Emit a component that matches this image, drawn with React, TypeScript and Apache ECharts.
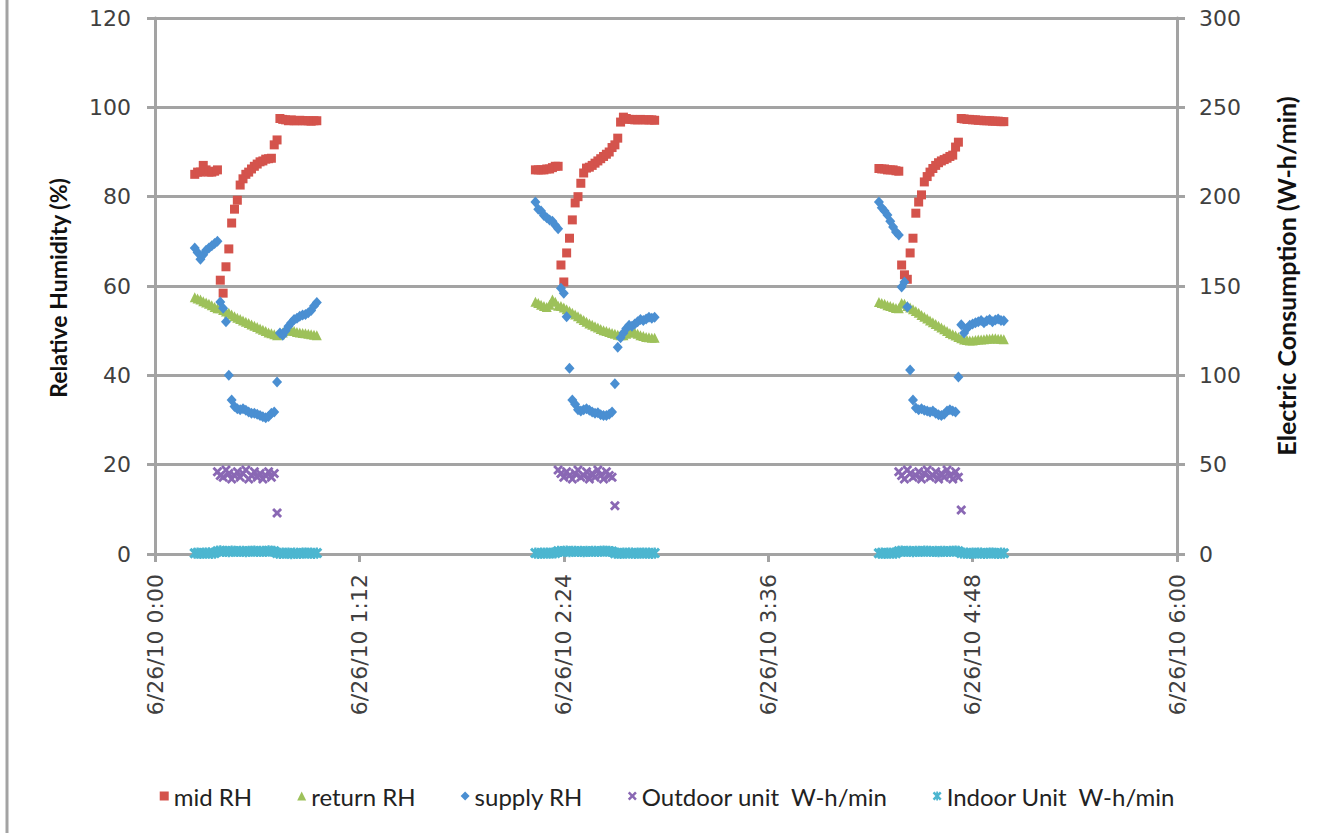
import React, { useEffect, useRef } from "react";
import * as echarts from "echarts";

// ---- axis tick labels ----
const xTickLabels = [
  "6/26/10 0:00",
  "6/26/10 1:12",
  "6/26/10 2:24",
  "6/26/10 3:36",
  "6/26/10 4:48",
  "6/26/10 6:00",
];

// ---- sampling: one reading per minute, first minute of each cycle ----
const cycleStarts = [14, 134, 255];
const outdoorStarts = [22, 142, 262];

// ---- mid RH (%) ----
const midRH1 = [
  85, 85.5, 85.5, 87, 86, 85.5, 85.5, 85.7, 86,
  61.3, 58.4, 64.3, 68.3, 74.1, 77.2, 79.2, 82.6,
  84, 85, 85.5, 86.2, 86.8, 87.3, 87.8, 88, 88.4, 88.5, 88.6,
  91.6, 92.7,
  97.5, 97.3, 97.2, 97, 97.2, 97, 97, 97.1, 97, 97, 97, 96.9, 97, 97,
];
const midRH2 = [
  86, 86, 86, 86, 86.2, 86.2, 86.5, 86.8, 86.8,
  64.7, 60.9, 67.4, 70.7, 74.8, 78.6, 80, 83, 85.3,
  86.4, 86.6, 87, 87.5, 88, 88.5, 89, 89.5, 90, 91, 91.6,
  93.1, 96.7,
  97.8, 97.5, 97.3, 97.3, 97.2, 97.2, 97.3, 97.2, 97.2, 97.2, 97.2, 97.1,
];
const midRH3 = [
  86.3, 86.2, 86.2, 86, 86, 86, 85.8, 85.7,
  64.7, 62.5, 61.5, 67.4, 70.7, 76.3, 78.8, 80.4,
  83.3, 84.5, 85.5, 86.3, 87, 87.6, 88, 88.3, 88.6, 89, 89.3,
  91.1, 92.2,
  97.5, 97.4, 97.3, 97.3, 97.2, 97.2, 97.1, 97.1, 97, 97, 97, 96.9, 96.9, 96.9, 96.8, 96.8,
];

// ---- return RH (%) ----
const returnRH1 = [
  57.5, 57.2, 57, 56.6, 56.3, 56, 55.7, 55.3, 55,
  55, 54.6, 54.3, 54, 53.6, 53.2, 52.9, 52.6, 52.3, 52, 51.7, 51.4, 51.1, 50.8, 50.5, 50.2, 49.9, 49.6, 49.4, 49.2, 49,
  49.2, 49.6, 50, 50.2, 50.1, 49.9, 49.7, 49.6, 49.5, 49.4, 49.3, 49.2, 49.1, 49,
];
const returnRH2 = [
  56.5, 56.2, 55.8, 55.5, 55.3, 55.8, 57, 56.5, 55.6,
  55.5, 55.2, 54.8, 54.4, 54, 53.6, 53.2, 52.8, 52.4, 52, 51.6, 51.3, 51, 50.7, 50.4, 50.1, 49.9, 49.7, 49.5, 49.3, 49.1, 49,
  49, 49.3, 49.6, 49.8, 49.6, 49.3, 49, 48.8, 48.6, 48.5, 48.4, 48.4,
];
const returnRH3 = [
  56.4, 56.2, 56, 55.7, 55.5, 55.3, 55.1, 55,
  56.2, 56, 55.5, 55.2, 54.8, 54.4, 54, 53.5, 53.1, 52.7, 52.3, 51.9, 51.5, 51.1, 50.7, 50.3, 49.9, 49.5, 49.2, 48.9, 48.6,
  48.3, 48, 47.9, 47.8, 47.8, 47.9, 48, 48, 48.1, 48.2, 48.2, 48.3, 48.3, 48.2, 48.2, 48.1,
];

// ---- supply RH (%) ----
const supplyRH1 = [
  68.5, 67.5, 66, 67, 68, 68.5, 69, 69.5, 70,
  56.4, 55, 52, 40, 34.5,
  33, 32.5, 32.3, 32.5, 32.2, 31.8, 31.5, 31.5, 31.3, 31, 30.7, 30.5, 30.8, 31.5, 31.8,
  38.5,
  49.5, 49, 50, 51, 51.8, 52.5, 52.8, 53.2, 53.5, 53.6, 54, 54.5, 55.5, 56.3,
];
const supplyRH2 = [
  78.8, 77.2, 76.8, 75.8, 75.3, 74.8, 74.5, 73.6, 72.8,
  59.5, 58.4, 53.1, 41.6, 34.5,
  33.5, 32.3, 32, 32.3, 32.5, 32.2, 31.8, 31.5, 31.6, 31.2, 31, 31, 31.3, 31.8,
  38.1, 46.3, 48.4,
  49.5, 50.5, 51.2, 51, 51.5, 52, 52.5, 52.3, 52.6, 53, 52.8, 53,
];
const supplyRH3 = [
  78.8, 77.5, 76.8, 75.9, 74.5, 73.2, 72.1, 71.4,
  59.8, 60.9, 55.3, 41.2, 34.5,
  32.7, 32.3, 32.5, 32.2, 32, 31.8, 32, 31.5, 31.2, 31, 31.3, 32, 32.3, 32, 31.8,
  39.6,
  51.3, 49.5, 50.5, 51.2, 51.5, 51.8, 52, 52.3, 51.8, 52.2, 52.5, 52, 52.4, 52.6, 52.3, 52.2,
];

// ---- Outdoor unit W-h/min (right axis), compressor-on minutes ----
const outdoor1 = [
  46, 44, 43, 47, 45, 42, 44, 46, 43, 45, 47, 42, 44, 46, 43, 45, 42, 44, 46, 43, 45,
  23,
];
const outdoor2 = [
  47, 45, 43, 46, 44, 42, 45, 47, 43, 44, 46, 42, 45, 43, 47, 44, 42, 46, 44, 43,
  27,
];
const outdoor3 = [
  46, 44, 42, 47, 45, 43, 44, 46, 42, 45, 47, 43, 44, 46, 42, 45, 43, 47, 44, 42, 46, 43,
  24.6,
];

// ---- Indoor Unit W-h/min (right axis) ----
const indoor1 = [
  0.4, 0.6, 0.3, 0.5, 0.4, 0.7, 0.3, 0.5,
  1.5, 1.8, 1.4, 1.6, 1.3, 1.7, 1.5, 1.4, 1.6, 1.5, 1.3, 1.6, 1.5, 1.7, 1.4, 1.5, 1.6, 1.4, 1.8, 1.5, 1.6,
  0.5, 0.3, 0.6, 0.4, 0.5, 0.2, 0.6, 0.4, 0.3, 0.5, 0.6, 0.4, 0.5, 0.3, 0.5,
];
const indoor2 = [
  0.5, 0.3, 0.6, 0.4, 0.5, 0.4, 0.6, 0.5,
  1.6, 1.4, 1.5, 1.7, 1.3, 1.5, 1.6, 1.4, 1.5, 1.3, 1.6, 1.4, 1.5, 1.6, 1.4, 1.5, 1.7, 1.5, 1.6, 1.4,
  0.4, 0.6, 0.3, 0.5, 0.4, 0.6, 0.5, 0.3, 0.5, 0.4, 0.6, 0.4, 0.5, 0.3, 0.5,
];
const indoor3 = [
  0.4, 0.5, 0.3, 0.6, 0.4, 0.5, 0.4,
  1.5, 1.7, 1.4, 1.6, 1.5, 1.3, 1.6, 1.5, 1.4, 1.7, 1.5, 1.6, 1.4, 1.5, 1.3, 1.6, 1.5, 1.4, 1.6, 1.5, 1.7, 1.5,
  0.5, 0.4, 0.6, 0.3, 0.5, 0.4, 0.6, 0.5, 0.3, 0.4, 0.6, 0.5, 0.4, 0.3, 0.5, 0.4,
];

const seriesNames = [
  "mid RH",
  "return RH",
  "supply RH",
  "Outdoor unit  W-h/min",
  "Indoor Unit  W-h/min",
];
const leftTitle = "Relative Humidity (%)";
const rightTitle = "Electric Consumption (W-h/min)";
const colors = ["#D4534C", "#9DC15A", "#4A8FD2", "#8A68B4", "#4CB6D0"];

const X_SYMBOL =
  "path://M0,2L2,0L5,3L8,0L10,2L7,5L10,8L8,10L5,7L2,10L0,8L3,5Z";
const STAR_SYMBOL =
  "path://M0,2L2,0L5,3L8,0L10,2L7,5L10,8L8,10L5,7L2,10L0,8L3,5Z M4,0L6,0L6,10L4,10Z";

function toPoints(starts: number[], cycles: number[][]) {
  const out: number[][] = [];
  cycles.forEach((vals, c) => {
    vals.forEach((v, i) => out.push([starts[c] + i, v]));
  });
  return out;
}

export default function App() {
  const ref = useRef<HTMLDivElement>(null);

  useEffect(() => {
    if (!ref.current) return;
    const chart = echarts.init(ref.current, undefined, { renderer: "svg" });
    const tickFont = {
      fontFamily: "DejaVu Sans",
      fontSize: 22,
      color: "#404040",
    };
    const gridGray = "#A3A3A3";
    const mk = (
      idx: number,
      data: number[][],
      symbol: string,
      size: number | number[],
      yAxisIndex: number
    ) => ({
      name: seriesNames[idx],
      type: "scatter",
      yAxisIndex,
      data,
      symbol,
      symbolSize: size,
      itemStyle: { color: colors[idx], opacity: 1 },
      emphasis: { disabled: true },
    });

    chart.setOption({
      animation: false,
      backgroundColor: "#ffffff",
      grid: { left: 155, right: 158, top: 18, bottom: 279, containLabel: false },
      graphic: [
        {
          type: "line",
          shape: { x1: 7, y1: 0, x2: 7, y2: 833 },
          style: { stroke: gridGray, lineWidth: 3 },
        },
        {
          type: "text",
          x: 58,
          y: 288,
          rotation: Math.PI / 2,
          style: {
            text: leftTitle,
            fontFamily: "Lato",
            fontWeight: "bold",
            fontSize: 23,
            fill: "#111",
            align: "center",
            verticalAlign: "middle",
          },
        },
        {
          type: "text",
          x: 1286,
          y: 276,
          rotation: Math.PI / 2,
          style: {
            text: rightTitle,
            fontFamily: "Lato",
            fontWeight: "bold",
            fontSize: 25,
            fill: "#111",
            align: "center",
            verticalAlign: "middle",
          },
        },
      ],
      legend: {
        bottom: 20,
        left: "center",
        itemWidth: 9,
        itemHeight: 9,
        itemGap: 45,
        textStyle: { fontFamily: "Lato", fontSize: 24, color: "#222" },
        data: seriesNames,
      },
      xAxis: {
        type: "value",
        min: 0,
        max: 360,
        interval: 72,
        axisLine: { show: true, onZero: false, lineStyle: { color: gridGray, width: 3 } },
        axisTick: { show: true, length: 8, lineStyle: { color: gridGray, width: 3 } },
        splitLine: { show: false },
        axisLabel: {
          ...tickFont,
          rotate: 90,
          margin: 20,
          formatter: (v: number) => xTickLabels[Math.round(v / 72)] ?? "",
        },
      },
      yAxis: [
        {
          type: "value",
          min: 0,
          max: 120,
          interval: 20,
          position: "left",
          axisLine: { show: true, lineStyle: { color: gridGray, width: 3 } },
          axisTick: { show: true, length: 8, lineStyle: { color: gridGray, width: 3 } },
          splitLine: { show: true, lineStyle: { color: gridGray, width: 3 } },
          axisLabel: { ...tickFont, margin: 24 },
        },
        {
          type: "value",
          min: 0,
          max: 300,
          interval: 50,
          position: "right",
          axisLine: { show: true, lineStyle: { color: gridGray, width: 3 } },
          axisTick: { show: true, length: 8, lineStyle: { color: gridGray, width: 3 } },
          splitLine: { show: false },
          axisLabel: { ...tickFont, margin: 22 },
        },
      ],
      series: [
        mk(0, toPoints(cycleStarts, [midRH1, midRH2, midRH3]), "rect", 9, 0),
        mk(1, toPoints(cycleStarts, [returnRH1, returnRH2, returnRH3]), "triangle", 10, 0),
        mk(2, toPoints(cycleStarts, [supplyRH1, supplyRH2, supplyRH3]), "diamond", [10, 11], 0),
        mk(3, toPoints(outdoorStarts, [outdoor1, outdoor2, outdoor3]), X_SYMBOL, 10, 1),
        mk(4, toPoints(cycleStarts, [indoor1, indoor2, indoor3]), STAR_SYMBOL, 11, 1),
      ],
    });
    return () => chart.dispose();
  }, []);

  return (
    <div
      ref={ref}
      style={{ position: "absolute", left: 0, top: 0, width: 1335, height: 833 }}
    />
  );
}
